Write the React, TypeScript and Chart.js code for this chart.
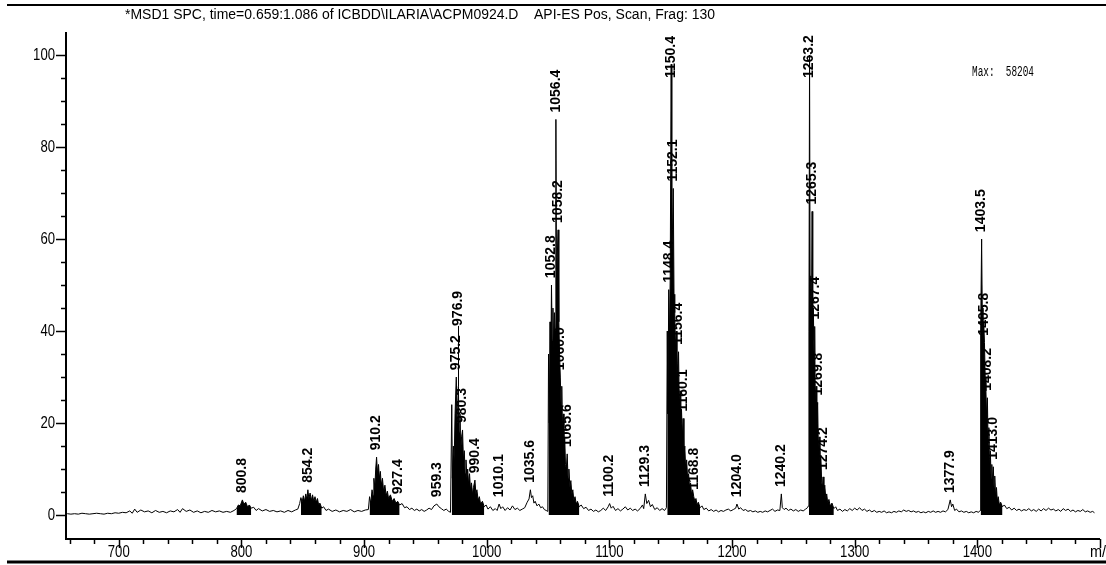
import React, { useEffect, useRef } from "react";
import { Chart, registerables } from "chart.js";

Chart.register(...registerables);

// ---------------- text ----------------
const TITLE =
  "*MSD1 SPC, time=0.659:1.086 of ICBDD\\ILARIA\\ACPM0924.D    API-ES Pos, Scan, Frag: 130";
const MAX_NOTE = "Max:  58204";
const X_UNIT = "m/z";

// ---------------- axes ----------------
const xTickLabels = [700, 800, 900, 1000, 1100, 1200, 1300, 1400];
const yTickLabels = [0, 20, 40, 60, 80, 100];
const X_MIN = 657;
const X_MAX = 1500;
const Y_MIN = -5.2;
const Y_MAX = 105;

// ---------------- spectrum (m/z, relative abundance %) ----------------
const regionLow = [
  [658, 0.3], [661, 0.2], [664, 0.3], [667, 0.2], [670, 0.4], [673, 0.3], [676, 0.2], [679, 0.3],
  [682, 0.4], [685, 0.3], [688, 0.2], [691, 0.4], [694, 0.3], [697, 0.5], [700, 0.4], [703, 0.6],
  [706, 0.5], [709, 0.9], [711, 0.4], [713, 1.3], [715, 0.6], [718, 1.1], [721, 0.7], [724, 0.9],
  [727, 0.5], [730, 1.0], [733, 0.6], [736, 0.8], [739, 0.5], [742, 0.9], [745, 0.7], [748, 1.2],
  [750, 0.6], [752, 1.4], [755, 0.8], [758, 1.1], [761, 0.6], [764, 0.9], [767, 0.5], [770, 0.8],
  [773, 0.6], [776, 1.0], [779, 0.7], [782, 0.9], [785, 0.6], [788, 0.8], [791, 0.6], [794, 1.0],
];
const region800 = [
  [796, 1.4], [797.5, 2.2], [799, 2.0], [800.8, 3.3], [802, 2.4], [803.5, 2.8], [805, 1.8],
  [806.5, 2.2], [808, 1.5], [810, 1.7], [812, 1.0], [814, 1.4], [817, 0.9], [820, 1.2], [823, 0.8],
  [826, 1.0], [829, 0.7], [832, 0.9], [835, 0.6], [838, 1.0], [841, 0.7], [844, 1.1], [846, 1.3],
  [847.5, 2.5],
];
const region854 = [
  [848.5, 3.8], [849.5, 2.8], [850.5, 4.2], [851.5, 3.0], [852.5, 4.6], [853.3, 3.4], [854.2, 5.5],
  [855, 3.6], [856, 4.8], [857, 3.2], [858, 4.4], [859, 3.0], [860, 4.0], [861, 2.8], [862, 3.6],
  [863, 2.2], [864, 2.6], [865.5, 1.5], [867, 1.8], [869, 1.0], [871, 1.3], [874, 0.8], [877, 1.1],
  [880, 0.7], [883, 1.0], [886, 0.8], [889, 1.2], [892, 0.7], [895, 1.0], [898, 0.8], [901, 1.1],
  [903.5, 1.2],
];
const region910 = [
  [904.5, 4.0], [905.5, 2.5], [906.5, 5.5], [907.3, 4.2], [908, 8], [908.8, 6], [909.5, 10],
  [910.2, 12.6], [911, 9], [911.8, 11], [912.5, 8], [913.3, 9.5], [914, 6.5], [915, 8], [916, 5],
  [917, 6.5], [918, 4.2], [919, 5.2], [920, 3.6], [921.5, 4.4], [923, 3], [924.5, 3.6], [926, 2.6],
  [927.4, 3.0], [929, 2.2], [931, 2.5], [933, 1.6], [935, 1.8], [937, 1.2], [939, 1.5], [941, 1.0],
  [943, 1.3], [945, 0.9], [947, 1.2], [949, 0.8], [951, 1.1], [953, 1.5], [955, 1.2], [957, 2.0],
  [959.3, 2.4], [961, 1.8], [963, 1.4], [965, 1.0], [967, 1.3], [969, 0.8], [970.5, 0.6],
];
const region975 = [
  [971.5, 24], [972, 8], [972.8, 15], [973.5, 12], [974.2, 22], [975.2, 30], [975.8, 20],
  [976.4, 24], [976.9, 28], [977.5, 18], [978.2, 22], [978.8, 14], [979.5, 17], [980.3, 18.5],
  [981, 12], [981.7, 14], [982.4, 9], [983.1, 12], [983.8, 8], [984.5, 10], [985.3, 6.5], [986, 9],
  [986.8, 5.5], [987.6, 7], [988.4, 4.5], [989.2, 6], [990.4, 7.6], [991.2, 4.5], [992, 5.5],
  [993, 3.2], [994, 4], [995, 2.4], [996.5, 3], [998, 1.8], [999.5, 2.2], [1001, 1.3], [1003, 1.8],
  [1005, 1.0], [1007, 1.4], [1008.5, 1.0], [1010.1, 2.4], [1011.5, 1.4], [1013, 1.8], [1015, 1.0],
  [1017, 1.6], [1019, 1.1], [1021, 2.0], [1023, 1.2], [1025, 1.5], [1027, 1.0], [1029, 1.3],
  [1031, 1.6], [1033, 2.8], [1034.5, 3.5], [1035.6, 5.5], [1036.5, 3.8], [1037.5, 4.2],
  [1038.5, 2.6], [1039.5, 3.0], [1041, 2.0], [1042.5, 2.4], [1044, 1.6], [1045.5, 1.8], [1047, 1.2],
  [1048.5, 1.0], [1049.8, 0.8],
];
const region1056 = [
  [1050.4, 35], [1051, 20], [1051.6, 42], [1052.2, 30], [1052.8, 50], [1053.4, 38], [1054, 45],
  [1054.6, 36], [1055.2, 44], [1055.8, 40], [1056.4, 86], [1056.9, 48], [1057.5, 56], [1058.2, 62],
  [1058.8, 42], [1059.4, 35], [1060.0, 30], [1060.6, 24], [1061.2, 28], [1061.8, 18], [1062.4, 22],
  [1063, 14], [1063.6, 17], [1064.2, 11], [1064.9, 10], [1065.6, 13.3], [1066.3, 8], [1067, 10],
  [1067.8, 6], [1068.6, 7.5], [1069.4, 4.5], [1070.2, 5.5], [1071, 3.2], [1072, 4], [1073, 2.4],
  [1074, 3], [1075.5, 1.8], [1077, 2.2], [1079, 1.4], [1081, 1.7], [1083, 1.0], [1085, 1.3],
  [1087, 0.8], [1089, 1.1], [1091, 0.7], [1093, 1.0], [1095, 1.5], [1097, 1.0], [1099, 1.8],
  [1100.2, 2.5], [1101.5, 1.5], [1103, 1.9], [1105, 1.0], [1107, 1.4], [1109, 0.9], [1111, 1.3],
  [1113, 1.8], [1115, 1.1], [1117, 1.5], [1119, 1.0], [1121, 1.3], [1123, 0.9], [1125, 1.4],
  [1127, 2.2], [1128, 1.4], [1129.3, 4.6], [1130.5, 2.5], [1132, 3.2], [1133.5, 1.8], [1135, 2.3],
  [1137, 1.2], [1139, 1.6], [1141, 1.0], [1143, 1.4], [1145, 1.0], [1146.5, 1.6],
];
const region1150 = [
  [1147.2, 40], [1147.7, 22], [1148.4, 49], [1149, 38], [1149.6, 52], [1150.4, 98], [1150.9, 55],
  [1151.5, 62], [1152.1, 71], [1152.7, 48], [1153.3, 44], [1153.9, 36], [1154.5, 40], [1155.1, 30],
  [1155.8, 33], [1156.4, 35.5], [1157, 24], [1157.6, 27], [1158.2, 20], [1158.8, 23], [1159.5, 17],
  [1160.1, 21], [1160.8, 13], [1161.5, 15], [1162.2, 10], [1163, 12], [1163.8, 8], [1164.6, 9],
  [1165.4, 6], [1166.2, 7], [1167, 4.5], [1167.9, 5.5], [1168.8, 4], [1169.7, 3], [1170.6, 3.6],
  [1171.5, 2.2], [1172.5, 2.8], [1174, 1.6], [1175.5, 2], [1177, 1.2], [1179, 1.5], [1181, 0.9],
  [1183, 1.2], [1185, 0.8], [1187, 1.1], [1189, 0.7], [1191, 1.0], [1193, 0.8], [1195, 1.1],
  [1197, 1.3], [1199, 0.9], [1201, 1.2], [1203, 1.5],
];
const region1240 = [
  [1204.0, 2.4], [1205.5, 1.3], [1207, 1.6], [1209, 1.0], [1211, 1.2], [1213, 0.8], [1215, 1.0],
  [1217, 0.7], [1219, 0.9], [1221, 0.6], [1223, 0.8], [1225, 0.6], [1227, 0.9], [1229, 0.7],
  [1231, 1.0], [1233, 1.3], [1235, 0.8], [1237, 1.1], [1239, 1.0], [1240.2, 4.6], [1241, 1.6],
  [1242.5, 1.2], [1244, 1.5], [1246, 1.0], [1248, 1.3], [1250, 0.9], [1252, 1.2], [1254, 0.8],
  [1256, 1.1], [1258, 0.9], [1260, 1.3], [1261.5, 1.6], [1262.3, 2.0],
];
const region1263 = [
  [1262.7, 40], [1263.2, 100], [1263.7, 45], [1264.2, 52], [1264.7, 40], [1265.3, 66],
  [1265.8, 38], [1266.3, 45], [1266.9, 34], [1267.4, 41], [1267.9, 24], [1268.5, 28], [1269.1, 20],
  [1269.8, 24.5], [1270.4, 14], [1271, 17], [1271.7, 11], [1272.4, 13], [1273.1, 7], [1273.7, 6],
  [1274.2, 8.3], [1274.9, 5], [1275.6, 6.5], [1276.4, 3.8], [1277.2, 4.6], [1278, 2.6], [1279, 3.4],
  [1280, 2], [1281.5, 2.6], [1283, 1.4], [1284.5, 1.8], [1286, 1.0], [1288, 1.3], [1290, 0.8],
  [1292, 1.2], [1294, 0.9], [1296, 1.4], [1298, 1.0], [1300, 1.5], [1302, 1.1], [1304, 1.6],
  [1306, 1.0], [1308, 1.3], [1310, 0.8], [1312, 1.1], [1314, 0.7], [1316, 1.0], [1318, 0.6],
];
const region1378 = [
  [1320, 0.8], [1322, 0.6], [1324, 0.9], [1326, 0.5], [1328, 0.7], [1330, 0.5], [1332, 0.8],
  [1334, 0.6], [1336, 0.9], [1338, 0.7], [1340, 1.1], [1342, 0.8], [1344, 1.0], [1346, 0.7],
  [1348, 0.9], [1350, 0.6], [1352, 0.8], [1354, 0.5], [1356, 0.7], [1358, 0.5], [1360, 0.8],
  [1362, 0.6], [1364, 0.9], [1366, 0.6], [1368, 0.8], [1370, 0.6], [1372, 0.9], [1374, 0.7],
  [1376, 1.2], [1377.9, 3.3], [1379, 1.8], [1380, 2.4], [1381.5, 1.0], [1383, 1.3], [1385, 0.7],
  [1387, 0.9], [1389, 0.6], [1391, 0.8], [1393, 0.5], [1395, 0.7], [1397, 0.5], [1399, 0.8],
  [1401, 0.6], [1402.2, 1.0],
];
const region1403 = [
  [1402.7, 40], [1403.5, 60], [1404, 45], [1404.6, 38], [1405.2, 42], [1405.8, 37.5], [1406.4, 30],
  [1407, 27], [1407.6, 21], [1408.2, 25.5], [1408.8, 15], [1409.4, 19], [1410, 10], [1410.6, 14],
  [1411.2, 8], [1411.8, 11], [1412.4, 7], [1413.0, 10.5], [1413.6, 6], [1414.2, 8.5], [1414.9, 4],
  [1415.6, 6], [1416.3, 3], [1417, 4], [1418, 2.2], [1419, 2.8], [1420.5, 1.8], [1422, 2.2],
  [1424, 1.4], [1426, 1.7], [1428, 1.1], [1430, 1.5], [1432, 1.0], [1434, 1.3], [1436, 0.9],
  [1438, 1.2], [1440, 1.0], [1442, 1.4], [1444, 0.9], [1446, 1.2], [1448, 0.8], [1450, 1.3],
  [1452, 0.9], [1454, 1.4], [1456, 1.0], [1458, 1.5], [1460, 1.1], [1462, 1.3], [1464, 0.9],
  [1466, 1.2], [1468, 0.8], [1470, 1.4], [1472, 1.0], [1474, 1.3], [1476, 0.8], [1478, 1.1],
  [1480, 0.7], [1482, 1.0], [1484, 0.8], [1486, 1.2], [1488, 0.7], [1490, 0.9], [1492, 0.6],
  [1494, 0.8], [1495.5, 0.5],
];

// m/z windows where the unresolved clusters appear solid black
const solidWindows = [
  [795.9, 808.1], [848.4, 865.6], [904.4, 929.1], [971.4, 998.1], [1050.3, 1075.6],
  [1147.1, 1174.1], [1262.6, 1283.1], [1402.6, 1420.6],
];

// labelled peaks (m/z)
const labeledPeaks = [
  800.8, 854.2, 910.2, 927.4, 959.3, 975.2, 976.9, 980.3, 990.4, 1010.1, 1035.6, 1052.8, 1056.4,
  1058.2, 1060.0, 1065.6, 1100.2, 1129.3, 1148.4, 1150.4, 1152.1, 1156.4, 1160.1, 1168.8, 1204.0,
  1240.2, 1263.2, 1265.3, 1267.4, 1269.8, 1274.2, 1377.9, 1403.5, 1405.8, 1408.2, 1413.0,
];

const spectrum = [
  ...regionLow, ...region800, ...region854, ...region910, ...region975, ...region1056,
  ...region1150, ...region1240, ...region1263, ...region1378, ...region1403,
].map(([x, y]) => ({ x, y }));

const solidFill: { x: number; y: number | null }[] = [];
solidWindows.forEach(([a, b]) => {
  spectrum.forEach((p) => {
    if (p.x >= a && p.x <= b) solidFill.push(p);
  });
  solidFill.push({ x: b + 0.01, y: null });
});

const SANS = '"Liberation Sans", Arial, sans-serif';
const MONO = '"Liberation Mono", "DejaVu Sans Mono", monospace';

function fitText(ctx: CanvasRenderingContext2D, text: string, x: number, y: number, sx: number) {
  ctx.save();
  ctx.translate(x, y);
  ctx.scale(sx, 1);
  ctx.fillText(text, 0, 0);
  ctx.restore();
}

const msPlugin = {
  id: "msDecor",
  afterDraw(chart: any) {
    const ctx: CanvasRenderingContext2D = chart.ctx;
    const { left, right, top, bottom } = chart.chartArea;
    const xs = chart.scales.x;
    const ys = chart.scales.y;
    const W = chart.width;
    ctx.save();
    ctx.strokeStyle = "#000";
    ctx.fillStyle = "#000";

    const seg = (x1: number, y1: number, x2: number, y2: number, w: number) => {
      ctx.lineWidth = w;
      ctx.beginPath();
      ctx.moveTo(x1, y1);
      ctx.lineTo(x2, y2);
      ctx.stroke();
    };

    // frame rules
    seg(7, 5, W, 5, 2);
    seg(7, 562, W, 562, 3);

    // axes
    seg(left, top, left, bottom + 1, 2);
    seg(left - 1, bottom, right, bottom, 2);

    // y ticks
    for (let v = 0; v <= 100; v += 5) {
      const y = Math.round(ys.getPixelForValue(v)) + 0.5;
      const major = v % 20 === 0;
      seg(left - (major ? 10 : 5), y, left, y, 1.5);
    }
    ctx.font = "16px " + SANS;
    ctx.textAlign = "right";
    ctx.textBaseline = "middle";
    yTickLabels.forEach((v) => {
      fitText(ctx, String(v), left - 11, ys.getPixelForValue(v) + 1, 0.82);
    });

    // x ticks
    for (let v = 660; v <= X_MAX; v += 20) {
      const x = Math.round(xs.getPixelForValue(v)) + 0.5;
      const major = v % 100 === 0;
      seg(x, bottom, x, bottom + (major ? 9 : 5), 1.5);
    }
    ctx.textAlign = "center";
    xTickLabels.forEach((v) => {
      fitText(ctx, String(v), xs.getPixelForValue(v), bottom + 14, 0.82);
    });
    ctx.textAlign = "left";
    fitText(ctx, X_UNIT, 1090, bottom + 14, 0.9);

    // title, fitted to its span in the original
    ctx.font = "14px " + SANS;
    ctx.textAlign = "left";
    const tw = ctx.measureText(TITLE).width;
    fitText(ctx, TITLE, 125, 15, 590 / tw);

    // max note
    ctx.font = "14px " + MONO;
    const mw = ctx.measureText(MAX_NOTE).width;
    fitText(ctx, MAX_NOTE, 972, 72, 62 / mw);

    // peak labels
    ctx.font = "bold 14px " + SANS;
    const pxPerUnit = Math.abs(ys.getPixelForValue(1) - ys.getPixelForValue(0));
    const placed: { x: number; lo: number; hi: number }[] = [];
    labeledPeaks.forEach((mz) => {
      let best = spectrum[0];
      spectrum.forEach((p) => {
        if (Math.abs(p.x - mz) < Math.abs(best.x - mz)) best = p;
      });
      const apex = best.y;
      const text = mz.toFixed(1);
      const h = ctx.measureText(text).width / pxPerUnit;
      const x = xs.getPixelForValue(mz);
      let base = Math.min(apex + 1.5, 95);
      let moved = true;
      while (moved) {
        moved = false;
        for (const o of placed) {
          if (Math.abs(o.x - x) < 11 && base < o.hi && base + h > o.lo) {
            base = o.hi + 2;
            moved = true;
          }
        }
      }
      placed.push({ x, lo: base, hi: base + h });
      if (base > apex + 3) {
        const xx = Math.round(x) + 0.5;
        seg(xx, ys.getPixelForValue(apex), xx, ys.getPixelForValue(base), 1);
      }
      ctx.save();
      ctx.translate(x, ys.getPixelForValue(base));
      ctx.rotate(-Math.PI / 2);
      ctx.textAlign = "left";
      ctx.textBaseline = "middle";
      ctx.fillText(text, 0, 0);
      ctx.restore();
    });

    ctx.restore();
  },
};

export default function App() {
  const ref = useRef<HTMLCanvasElement | null>(null);
  useEffect(() => {
    document.body.style.margin = "0";
    const canvas = ref.current;
    if (!canvas) return;
    const chart = new Chart(canvas, {
      type: "scatter",
      data: {
        datasets: [
          {
            data: solidFill,
            showLine: true,
            spanGaps: false,
            fill: "origin",
            backgroundColor: "#000",
            borderColor: "#000",
            borderWidth: 0,
            pointRadius: 0,
            tension: 0,
          } as any,
          {
            data: spectrum,
            showLine: true,
            borderColor: "#000",
            borderWidth: 1,
            borderJoinStyle: "round",
            pointRadius: 0,
            tension: 0,
          } as any,
        ],
      },
      options: {
        animation: false,
        responsive: false,
        events: [],
        devicePixelRatio: 1,
        layout: { padding: { left: 66, right: 6, top: 32, bottom: 26 } },
        plugins: { legend: { display: false }, tooltip: { enabled: false } },
        scales: {
          x: { type: "linear", min: X_MIN, max: X_MAX, display: false },
          y: { type: "linear", min: Y_MIN, max: Y_MAX, display: false },
        },
      },
      plugins: [msPlugin],
    });
    return () => chart.destroy();
  }, []);
  return (
    <div style={{ position: "absolute", left: 0, top: 0, width: 1106, height: 565, background: "#fff" }}>
      <canvas ref={ref} width={1106} height={565} style={{ display: "block" }} />
    </div>
  );
}
